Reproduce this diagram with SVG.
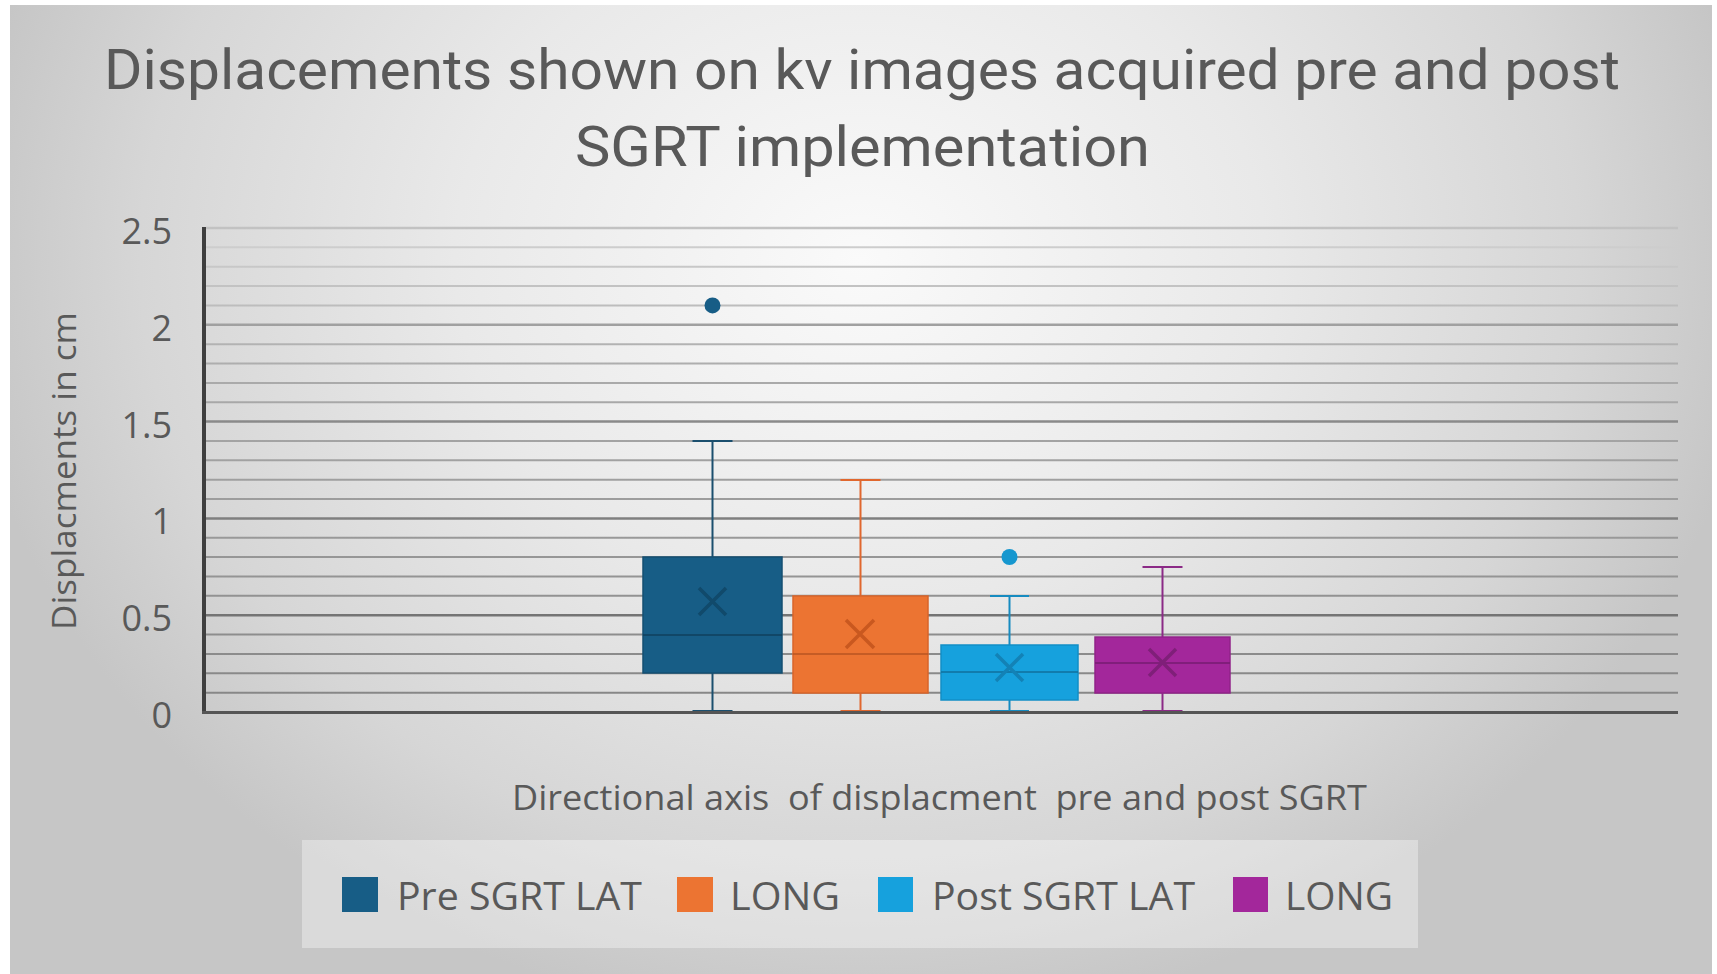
<svg xmlns="http://www.w3.org/2000/svg" width="1717" height="974" viewBox="0 0 1717 974">
<defs>
<radialGradient id="bg" gradientUnits="userSpaceOnUse" cx="860" cy="260" r="900" gradientTransform="translate(860 260) scale(1 0.85) translate(-860 -260)">
<stop offset="0" stop-color="#fafafa"/>
<stop offset="0.45" stop-color="#e9e9e9"/>
<stop offset="0.8" stop-color="#d6d6d6"/>
<stop offset="1" stop-color="#c6c6c6"/>
</radialGradient>
<linearGradient id="gMinor" gradientUnits="userSpaceOnUse" x1="0" y1="228" x2="0" y2="712">
<stop offset="0" stop-color="#d2d2d2"/>
<stop offset="0.3" stop-color="#ababab"/>
<stop offset="1" stop-color="#858585"/>
</linearGradient>
<linearGradient id="gMajor" gradientUnits="userSpaceOnUse" x1="0" y1="228" x2="0" y2="712">
<stop offset="0" stop-color="#c2c2c2"/>
<stop offset="0.3" stop-color="#8f8f8f"/>
<stop offset="1" stop-color="#6a6a6a"/>
</linearGradient>
</defs>
<style>
.t{font-family:"Open Sans","Liberation Sans",sans-serif;fill:#595959}
.title{font-family:Roboto,"Liberation Sans",sans-serif;fill:#595959;font-size:56px}
.tick{font-size:36px;text-anchor:end}
.minor{stroke:url(#gMinor);stroke-width:2}
.major{stroke:url(#gMajor);stroke-width:2.5}
.med{stroke-width:1.5}
.xm{stroke-width:3.5;fill:none}
.wh{stroke-width:2;fill:none}
.leg{font-size:38px}
</style>
<rect x="0" y="0" width="1717" height="974" fill="#ffffff"/>
<rect x="10" y="5" width="1702" height="969" fill="url(#bg)"/>

<g id="title">
<text class="title" x="104" y="89" textLength="1516" lengthAdjust="spacingAndGlyphs">Displacements shown on kv images acquired pre and post</text>
<text class="title" x="575" y="166" textLength="575" lengthAdjust="spacingAndGlyphs">SGRT implementation</text>
</g>

<g id="gridlines">
<line class="minor" x1="206" y1="692.64" x2="1678" y2="692.64"/>
<line class="minor" x1="206" y1="673.28" x2="1678" y2="673.28"/>
<line class="minor" x1="206" y1="653.92" x2="1678" y2="653.92"/>
<line class="minor" x1="206" y1="634.56" x2="1678" y2="634.56"/>
<line class="major" x1="206" y1="615.2" x2="1678" y2="615.2"/>
<line class="minor" x1="206" y1="595.84" x2="1678" y2="595.84"/>
<line class="minor" x1="206" y1="576.48" x2="1678" y2="576.48"/>
<line class="minor" x1="206" y1="557.12" x2="1678" y2="557.12"/>
<line class="minor" x1="206" y1="537.76" x2="1678" y2="537.76"/>
<line class="major" x1="206" y1="518.4" x2="1678" y2="518.4"/>
<line class="minor" x1="206" y1="499.04" x2="1678" y2="499.04"/>
<line class="minor" x1="206" y1="479.68" x2="1678" y2="479.68"/>
<line class="minor" x1="206" y1="460.32" x2="1678" y2="460.32"/>
<line class="minor" x1="206" y1="440.96" x2="1678" y2="440.96"/>
<line class="major" x1="206" y1="421.6" x2="1678" y2="421.6"/>
<line class="minor" x1="206" y1="402.24" x2="1678" y2="402.24"/>
<line class="minor" x1="206" y1="382.88" x2="1678" y2="382.88"/>
<line class="minor" x1="206" y1="363.52" x2="1678" y2="363.52"/>
<line class="minor" x1="206" y1="344.16" x2="1678" y2="344.16"/>
<line class="major" x1="206" y1="324.8" x2="1678" y2="324.8"/>
<line class="minor" x1="206" y1="305.44" x2="1678" y2="305.44"/>
<line class="minor" x1="206" y1="286.08" x2="1678" y2="286.08"/>
<line class="minor" x1="206" y1="266.72" x2="1678" y2="266.72"/>
<line class="minor" x1="206" y1="247.36" x2="1678" y2="247.36"/>
<line class="major" x1="206" y1="228" x2="1678" y2="228"/>
</g>

<g id="y-axis">
<line x1="204" y1="227" x2="204" y2="713" stroke="#3f3f3f" stroke-width="4"/>
<text class="t tick" x="172" y="728">0</text>
<text class="t tick" x="172" y="631">0.5</text>
<text class="t tick" x="172" y="534">1</text>
<text class="t tick" x="172" y="438">1.5</text>
<text class="t tick" x="172" y="341">2</text>
<text class="t tick" x="172" y="244">2.5</text>
<text class="t" font-size="32" text-anchor="middle" transform="translate(76 471) rotate(-90)" textLength="318" lengthAdjust="spacingAndGlyphs">Displacments in cm</text>
</g>

<g id="box-pre-lat">
<line class="wh" x1="712.5" y1="557" x2="712.5" y2="441" stroke="#1b4f6e"/>
<line class="wh" x1="692.5" y1="441" x2="732.5" y2="441" stroke="#1b4f6e"/>
<line class="wh" x1="712.5" y1="673" x2="712.5" y2="712" stroke="#1b4f6e"/>
<line class="wh" x1="692.5" y1="711" x2="732.5" y2="711" stroke="#1b4f6e"/>
<rect x="643" y="557" width="139" height="116" fill="#175d86" stroke="#154f72" stroke-width="1.5"/>
<line class="med" x1="643" y1="635" x2="782" y2="635" stroke="#11405c"/>
<path class="xm" d="M699 588 L726 615 M726 588 L699 615" stroke="#114a6b"/>
<circle cx="712.5" cy="305.4" r="8" fill="#175d86"/>
</g>

<g id="box-pre-long">
<line class="wh" x1="860.5" y1="596" x2="860.5" y2="480" stroke="#e0672e"/>
<line class="wh" x1="840.5" y1="480" x2="880.5" y2="480" stroke="#e0672e"/>
<line class="wh" x1="860.5" y1="693" x2="860.5" y2="712" stroke="#e0672e"/>
<line class="wh" x1="840.5" y1="711" x2="880.5" y2="711" stroke="#e0672e"/>
<rect x="793" y="596" width="135" height="97" fill="#ec7432" stroke="#d9642a" stroke-width="1.5"/>
<line class="med" x1="793" y1="654" x2="928" y2="654" stroke="#b85522"/>
<path class="xm" d="M846 620 L874 648 M874 620 L846 648" stroke="#c9581f"/>
</g>

<g id="box-post-lat">
<line class="wh" x1="1009.5" y1="645" x2="1009.5" y2="596" stroke="#168bc0"/>
<line class="wh" x1="990" y1="596" x2="1029" y2="596" stroke="#168bc0"/>
<line class="wh" x1="1009.5" y1="700" x2="1009.5" y2="712" stroke="#168bc0"/>
<line class="wh" x1="990" y1="711" x2="1029" y2="711" stroke="#168bc0"/>
<rect x="941" y="645" width="137" height="55" fill="#16a1dd" stroke="#128fc6" stroke-width="1.5"/>
<line class="med" x1="941" y1="672" x2="1078" y2="672" stroke="#10719c"/>
<path class="xm" d="M996 654 L1023 681 M1023 654 L996 681" stroke="#1382b6"/>
<circle cx="1009.5" cy="557" r="8" fill="#1697cf"/>
</g>

<g id="box-post-long">
<line class="wh" x1="1162.5" y1="637" x2="1162.5" y2="567" stroke="#8b2a86"/>
<line class="wh" x1="1142.5" y1="567" x2="1182.5" y2="567" stroke="#8b2a86"/>
<line class="wh" x1="1162.5" y1="693" x2="1162.5" y2="712" stroke="#8b2a86"/>
<line class="wh" x1="1142.5" y1="711" x2="1182.5" y2="711" stroke="#8b2a86"/>
<rect x="1095" y="637" width="135" height="56" fill="#a3279b" stroke="#912389" stroke-width="1.5"/>
<line class="med" x1="1095" y1="663" x2="1230" y2="663" stroke="#761c70"/>
<path class="xm" d="M1149 649 L1176 676 M1176 649 L1149 676" stroke="#7f1f79"/>
</g>

<g id="x-axis">
<line x1="202" y1="712.5" x2="1678" y2="712.5" stroke="#555555" stroke-width="3"/>
<text class="t" font-size="34" x="512" y="810" textLength="855" lengthAdjust="spacingAndGlyphs" xml:space="preserve">Directional axis  of displacment  pre and post SGRT</text>
</g>

<g id="legend">
<rect x="302" y="840" width="1116" height="108" fill="#ffffff" fill-opacity="0.35"/>
<rect x="342" y="877" width="36" height="35" fill="#175d86"/>
<text class="t leg" x="397" y="910" textLength="245" lengthAdjust="spacingAndGlyphs">Pre SGRT LAT</text>
<rect x="677" y="877" width="36" height="35" fill="#ec7432"/>
<text class="t leg" x="730" y="910" textLength="110" lengthAdjust="spacingAndGlyphs">LONG</text>
<rect x="878" y="877" width="35" height="35" fill="#16a1dd"/>
<text class="t leg" x="932" y="910" textLength="263" lengthAdjust="spacingAndGlyphs">Post SGRT LAT</text>
<rect x="1233" y="877" width="35" height="35" fill="#a3279b"/>
<text class="t leg" x="1285" y="910" textLength="108" lengthAdjust="spacingAndGlyphs">LONG</text>
</g>
</svg>
